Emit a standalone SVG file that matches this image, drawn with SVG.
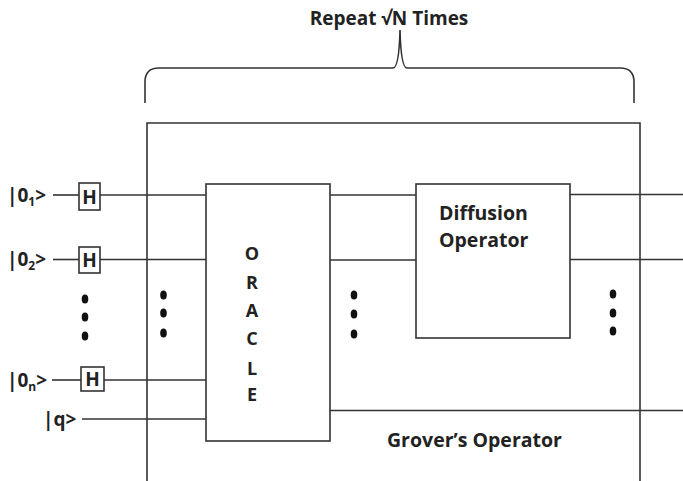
<svg xmlns="http://www.w3.org/2000/svg" width="683" height="481" viewBox="0 0 683 481">
<style>
.ln{stroke:#333;stroke-width:1.6;fill:none}
.bx{stroke:#333;stroke-width:1.6;fill:#fff}
.t{font-family:"Open Sans","Liberation Sans",sans-serif;font-weight:bold;fill:#222}
.dot{fill:#111}
</style>
<rect width="683" height="481" fill="#fff"/>
<g id="brace">
<path class="ln" d="M145,103 L145,82 Q145,68 159,68 L393,68 Q399,68 400,30 Q401,68 407,68 L620,68 Q634,68 634,82 L634,103"/>
<text class="t" x="389" y="25" font-size="19" text-anchor="middle">Repeat √N Times</text>
</g>
<g id="connectors">
<line class="ln" x1="53" y1="195" x2="79" y2="195"/>
<line class="ln" x1="100" y1="195" x2="206" y2="195"/>
<line class="ln" x1="53" y1="259.5" x2="79" y2="259.5"/>
<line class="ln" x1="100" y1="259.5" x2="206" y2="259.5"/>
<line class="ln" x1="52" y1="380" x2="81" y2="380"/>
<line class="ln" x1="104" y1="380" x2="206" y2="380"/>
<line class="ln" x1="82" y1="419" x2="206" y2="419"/>
<line class="ln" x1="330" y1="195" x2="416" y2="195"/>
<line class="ln" x1="330" y1="260" x2="416" y2="260"/>
<line class="ln" x1="570" y1="194.5" x2="683" y2="194.5"/>
<line class="ln" x1="570" y1="259.5" x2="683" y2="259.5"/>
<line class="ln" x1="330" y1="410.5" x2="683" y2="410.5"/>
</g>
<g id="grover">
<path class="ln" d="M147,481 L147,123 L640,123 L640,481"/>
<text class="t" x="387" y="447" font-size="19.5">Grover’s Operator</text>
</g>
<g id="oracle">
<rect class="bx" x="206" y="184" width="124" height="257"/>
<g class="t" font-size="18" text-anchor="middle">
<text x="252" y="260">O</text>
<text x="252" y="289">R</text>
<text x="252" y="317">A</text>
<text x="252" y="345">C</text>
<text x="252" y="375">L</text>
<text x="252" y="401">E</text>
</g>
</g>
<g id="diffusion">
<rect class="bx" x="416" y="184" width="154" height="154"/>
<text class="t" x="439" y="220" font-size="19.5">Diffusion</text>
<text class="t" x="439" y="247" font-size="19.5">Operator</text>
</g>
<g id="h1"><rect class="bx" x="79" y="183" width="21" height="27"/><text class="t" x="89.5" y="203.5" font-size="19" text-anchor="middle">H</text></g>
<g id="h2"><rect class="bx" x="79" y="247" width="21" height="26"/><text class="t" x="89.5" y="267" font-size="19" text-anchor="middle">H</text></g>
<g id="hn"><rect class="bx" x="81" y="367" width="23" height="24"/><text class="t" x="92.5" y="386" font-size="19" text-anchor="middle">H</text></g>
<g id="inputs" class="t" font-size="19">
<text x="7" y="202">|0<tspan font-size="12" dy="4">1</tspan><tspan dy="-4">&gt;</tspan></text>
<text x="7" y="266">|0<tspan font-size="12" dy="4">2</tspan><tspan dy="-4">&gt;</tspan></text>
<text x="7" y="387">|0<tspan font-size="12" dy="4">n</tspan><tspan dy="-4">&gt;</tspan></text>
<text x="43" y="426">|q&gt;</text>
</g>
<g id="dots">
<ellipse class="dot" cx="85" cy="299" rx="3.3" ry="4.5"/>
<ellipse class="dot" cx="85" cy="317" rx="3.3" ry="4.5"/>
<ellipse class="dot" cx="85" cy="336" rx="3.3" ry="4.5"/>
<ellipse class="dot" cx="163.5" cy="295" rx="3.3" ry="4.5"/>
<ellipse class="dot" cx="163.5" cy="313" rx="3.3" ry="4.5"/>
<ellipse class="dot" cx="163.5" cy="333" rx="3.3" ry="4.5"/>
<ellipse class="dot" cx="354" cy="295" rx="3.3" ry="4.5"/>
<ellipse class="dot" cx="354" cy="314" rx="3.3" ry="4.5"/>
<ellipse class="dot" cx="354" cy="334" rx="3.3" ry="4.5"/>
<ellipse class="dot" cx="613" cy="294" rx="3.3" ry="4.5"/>
<ellipse class="dot" cx="613" cy="313" rx="3.3" ry="4.5"/>
<ellipse class="dot" cx="613" cy="331" rx="3.3" ry="4.5"/>
</g>
</svg>
